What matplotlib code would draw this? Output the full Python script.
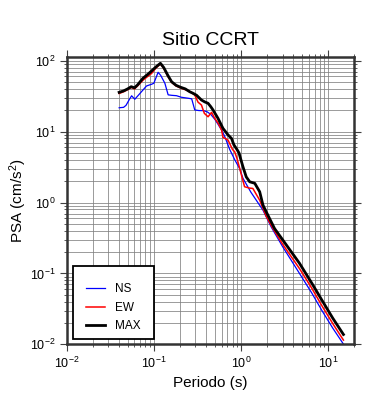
import numpy as np
import matplotlib
matplotlib.use("Agg")
import matplotlib.pyplot as plt
from matplotlib.patches import Rectangle
from matplotlib.ticker import LogLocator, NullFormatter

plt.rcParams.update({
    "font.family": "Liberation Sans",
    "mathtext.fontset": "custom",
    "mathtext.rm": "Liberation Sans",
    "mathtext.it": "Liberation Sans:italic",
    "mathtext.bf": "Liberation Sans:bold",
})

# periods (s) and PSA (cm/s^2)
t_max = [0.040, 0.045, 0.050, 0.055, 0.060, 0.065, 0.075, 0.085, 0.094, 0.105,
         0.119, 0.130, 0.145, 0.160, 0.180, 0.200, 0.230, 0.258, 0.282, 0.310,
         0.352, 0.385, 0.419, 0.450, 0.478, 0.545, 0.622, 0.710, 0.780, 0.830,
         0.900, 0.950, 1.000, 1.054, 1.150, 1.260, 1.440, 1.640, 1.790, 1.950,
         2.430, 3.000, 4.700, 6.500, 8.500, 11.30, 15.00]
psa_max = [35.8, 37.5, 40.0, 43.0, 41.5, 45.5, 56.5, 64.0, 71.5, 81.0,
           92.0, 80.0, 62.0, 50.5, 45.0, 42.5, 40.0, 36.5, 34.7, 32.5,
           27.9, 26.2, 25.1, 22.5, 20.2, 15.4, 11.1, 9.0, 8.0, 6.5,
           5.6, 5.0, 4.0, 3.2, 2.3, 1.96, 1.87, 1.42, 0.92, 0.74,
           0.43, 0.30, 0.139, 0.073, 0.042, 0.0235, 0.0138]

t_ew = [0.040, 0.045, 0.050, 0.055, 0.060, 0.065, 0.075, 0.085, 0.094, 0.105,
        0.119, 0.130, 0.145, 0.160, 0.180, 0.200, 0.230, 0.260, 0.295, 0.322,
        0.352, 0.380, 0.419, 0.460, 0.500, 0.550, 0.600, 0.622, 0.660, 0.710,
        0.800, 0.847, 0.900, 1.000, 1.100, 1.250, 1.370, 1.640, 1.950, 2.330,
        3.000, 4.700, 6.500, 8.500, 11.30, 15.00]
psa_ew = [34.5, 36.5, 39.0, 42.0, 40.0, 44.0, 53.0, 60.0, 66.0, 78.0,
          90.0, 78.0, 60.0, 49.5, 44.0, 41.5, 39.0, 36.6, 32.8, 26.0,
          23.7, 18.1, 16.2, 18.7, 15.4, 13.0, 10.5, 8.3, 8.0, 7.6,
          5.6, 5.2, 4.2, 2.6, 1.67, 1.60, 1.58, 1.08, 0.64, 0.43,
          0.26, 0.117, 0.062, 0.035, 0.0197, 0.0115]

t_ns = [0.040, 0.045, 0.048, 0.052, 0.0556, 0.0605, 0.070, 0.0824, 0.094, 0.100,
        0.112, 0.120, 0.134, 0.146, 0.160, 0.182, 0.207, 0.250, 0.272, 0.295,
        0.330, 0.370, 0.410, 0.450, 0.500, 0.550, 0.600, 0.650, 0.743, 0.850,
        0.967, 1.054, 1.300, 1.790, 2.230, 3.000, 4.700, 6.500, 8.500, 11.30,
        15.00]
psa_ns = [21.7, 22.0, 23.5, 28.0, 32.0, 28.6, 35.0, 44.0, 46.5, 48.0,
          68.6, 62.0, 48.0, 33.0, 32.5, 32.1, 30.5, 29.5, 29.0, 20.2,
          19.8, 19.8, 19.0, 17.5, 15.0, 12.5, 10.5, 8.6, 5.6, 4.0,
          3.0, 2.2, 1.4, 0.78, 0.45, 0.24, 0.100, 0.053, 0.030, 0.0170,
          0.0101]

fig = plt.figure(figsize=(3.9, 4.0), dpi=100)
ax = fig.add_axes([0.171, 0.139, 0.7375, 0.718])

ax.plot(t_ns, psa_ns, color="#0000ff", lw=0.9, label="NS")
ax.plot(t_ew, psa_ew, color="#ff0000", lw=1.1, label="EW")
ax.plot(t_max, psa_max, color="black", lw=2.0, label="MAX")

ax.set_xscale("log")
ax.set_yscale("log")
ax.set_xlim(0.01, 20)
ax.set_ylim(0.01, 112)

for axis in (ax.xaxis, ax.yaxis):
    axis.set_major_locator(LogLocator(base=10, numticks=10))
    axis.set_minor_locator(LogLocator(base=10, subs=np.arange(2, 10), numticks=10))
    axis.set_minor_formatter(NullFormatter())

ax.grid(which="both", color="0.5", lw=0.55)
ax.set_axisbelow(True)
ax.tick_params(which="both", direction="out", top=True, right=True,
               color="0.25", labelsize=9, pad=3)
ax.tick_params(which="major", length=5, width=0.8)
ax.tick_params(which="minor", length=2.5, width=0.6)
for s in ax.spines.values():
    s.set_linewidth(1.8)
    s.set_color("0.2")

ax.set_title("Sitio CCRT", fontsize=14, pad=9)
ax.set_xlabel("Periodo (s)", fontsize=11)
ax.set_ylabel("PSA (cm/s$^2$)", fontsize=11, labelpad=1)

box = Rectangle((0.023, 0.018), 0.28, 0.255, transform=ax.transAxes,
                facecolor="white", edgecolor="black", lw=1.3, zorder=4)
ax.add_patch(box)
leg = ax.legend(loc="upper left", bbox_to_anchor=(0.03, 0.25), frameon=False,
                fontsize=8.5, handlelength=1.6, labelspacing=0.55, handletextpad=0.9)
leg.set_zorder(5)

fig.savefig("out.png", dpi=100)
